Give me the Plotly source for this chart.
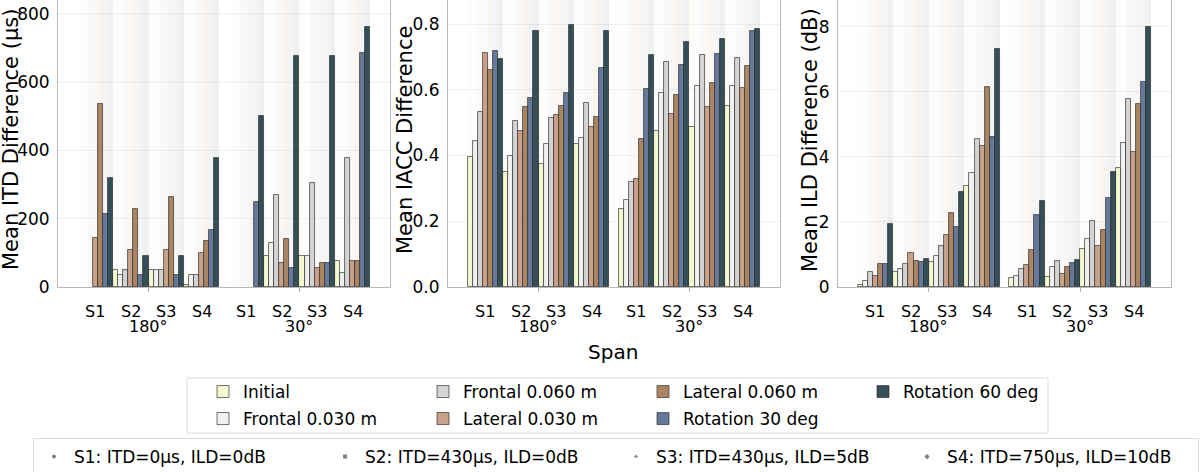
import plotly.graph_objects as go

# ---------------- data ----------------
sides = ["180°", "30°"]
scenarios = ["S1", "S2", "S3", "S4"]
conditions = ["Initial", "Frontal 0.030 m", "Frontal 0.060 m", "Lateral 0.030 m",
              "Lateral 0.060 m", "Rotation 30 deg", "Rotation 60 deg"]
scenario_labels = ["S1: ITD=0μs, ILD=0dB", "S2: ITD=430μs, ILD=0dB",
                   "S3: ITD=430μs, ILD=5dB", "S4: ITD=750μs, ILD=10dB"]

# each list: 180° S1..S4, then 30° S1..S4
itd_initial     = [0, 49, 49, 5, 0, 91, 91, 77]
itd_frontal_030 = [0, 34, 49, 34, 0, 128, 91, 41]
itd_frontal_060 = [0, 49, 49, 34, 0, 271, 306, 378]
itd_lateral_030 = [143, 107, 107, 99, 0, 69, 56, 77]
itd_lateral_060 = [535, 228, 263, 134, 0, 142, 69, 77]
itd_rotation_30 = [213, 34, 34, 168, 250, 55, 69, 686]
itd_rotation_60 = [320, 91, 91, 378, 500, 678, 678, 763]

iacc_initial     = [0.395, 0.349, 0.374, 0.434, 0.238, 0.475, 0.487, 0.552]
iacc_frontal_030 = [0.445, 0.399, 0.434, 0.452, 0.265, 0.589, 0.612, 0.610]
iacc_frontal_060 = [0.531, 0.506, 0.513, 0.560, 0.320, 0.683, 0.706, 0.696]
iacc_lateral_030 = [0.712, 0.474, 0.523, 0.488, 0.328, 0.525, 0.547, 0.606]
iacc_lateral_060 = [0.661, 0.548, 0.550, 0.517, 0.451, 0.584, 0.620, 0.672]
iacc_rotation_30 = [0.717, 0.575, 0.589, 0.666, 0.602, 0.674, 0.710, 0.779]
iacc_rotation_60 = [0.694, 0.780, 0.796, 0.780, 0.706, 0.746, 0.754, 0.784]

ild_initial     = [0.05, 0.47, 0.78, 3.12, 0.29, 0.30, 1.17, 3.67]
ild_frontal_030 = [0.20, 0.54, 0.94, 3.52, 0.35, 0.61, 1.49, 4.43]
ild_frontal_060 = [0.46, 0.71, 1.26, 4.56, 0.56, 0.79, 2.03, 5.77]
ild_lateral_030 = [0.35, 1.05, 1.59, 4.35, 0.69, 0.41, 1.26, 4.16]
ild_lateral_060 = [0.72, 0.80, 2.29, 6.16, 1.14, 0.61, 1.74, 5.62]
ild_rotation_30 = [0.72, 0.78, 1.84, 4.63, 2.20, 0.73, 2.74, 6.32]
ild_rotation_60 = [1.93, 0.86, 2.92, 7.32, 2.65, 0.83, 3.54, 8.01]

itd_series = [itd_initial, itd_frontal_030, itd_frontal_060, itd_lateral_030,
              itd_lateral_060, itd_rotation_30, itd_rotation_60]
iacc_series = [iacc_initial, iacc_frontal_030, iacc_frontal_060, iacc_lateral_030,
               iacc_lateral_060, iacc_rotation_30, iacc_rotation_60]
ild_series = [ild_initial, ild_frontal_030, ild_frontal_060, ild_lateral_030,
              ild_lateral_060, ild_rotation_30, ild_rotation_60]

y_titles = ["Mean ITD Difference (μs)", "Mean IACC Difference", "Mean ILD Difference (dB)"]
y_ticks = [[0, 200, 400, 600, 800], [0.0, 0.2, 0.4, 0.6, 0.8], [0, 2, 4, 6, 8]]
y_tickfmt = ["d", ".1f", "d"]
y_max = [841, 0.873, 8.83]

# ---------------- style ----------------
colors = ["#f6f9d0", "#f1f1ef", "#d4d4d4", "#c9a18b", "#ab8561", "#67799a", "#344f57"]
legend_row = ["legend", "legend3", "legend", "legend3", "legend", "legend3", "legend"]
marker_symbols = ["circle", "square", "triangle-up", "diamond"]
FONT = "DejaVu Sans"
W, H = 1200, 472
ML, MR, MT, MB = 30, 3, 0, 185
PW = W - ML - MR
PH = H - MT - MB
panel_px = [(58, 390), (448, 780), (838, 1171)]
domains = [[(a - ML) / PW, (b - ML) / PW] for a, b in panel_px]


def px_x(v):
    return (v - ML) / PW


def px_y(v):
    return (PH - (v - MT)) / PH


n_cond = len(conditions)
total_w = 0.94
bw = total_w / (len(scenarios) * n_cond)
gw = bw * n_cond


def bar_x(k):
    return [s + (j - (len(scenarios) - 1) / 2) * gw + (k - (n_cond - 1) / 2) * bw
            for s in range(len(sides)) for j in range(len(scenarios))]


def group_centers():
    return [s + (j - (len(scenarios) - 1) / 2) * gw
            for s in range(len(sides)) for j in range(len(scenarios))]


fig = go.Figure()
all_series = [itd_series, iacc_series, ild_series]
annotations = []
for p, series in enumerate(all_series):
    xa = "x" if p == 0 else f"x{p + 1}"
    ya = "y" if p == 0 else f"y{p + 1}"
    # faint background stripes behind each bar slot
    for k in range(n_cond):
        fig.add_trace(go.Bar(
            x=bar_x(k), y=[y_max[p]] * len(bar_x(k)), width=bw,
            marker=dict(color=colors[k], line=dict(width=0)),
            opacity=0.08 if k >= 3 else 0.12, showlegend=False, hoverinfo="skip",
            xaxis=xa, yaxis=ya))
    for k in range(n_cond):
        vals = [v if v != 0 else None for v in series[k]]  # zero-height bars draw nothing
        fig.add_trace(go.Bar(
            x=bar_x(k), y=vals, width=bw, name=conditions[k],
            marker=dict(color=colors[k], line=dict(color="rgba(45,45,45,0.75)", width=0.9)),
            showlegend=(p == 0), legendrank=k, legend=legend_row[k],
            xaxis=xa, yaxis=ya))
    # scenario labels and side labels
    for c, cx in enumerate(group_centers()):
        annotations.append(dict(x=cx, xref=xa, y=0, yref="paper", yanchor="middle",
                                yshift=-24, text=scenarios[c % len(scenarios)],
                                showarrow=False, font=dict(family=FONT, size=16, color="black")))
    for s, name in enumerate(sides):
        annotations.append(dict(x=s, xref=xa, y=0, yref="paper", yanchor="middle",
                                yshift=-39, text=name, showarrow=False,
                                font=dict(family=FONT, size=16, color="black")))
    # y-axis title
    tx = [11, 405, 810][p]
    annotations.append(dict(x=px_x(tx), xref="paper", y=px_y(140), yref="paper",
                            xanchor="center", yanchor="middle", textangle=-90,
                            text=y_titles[p], showarrow=False,
                            font=dict(family=FONT, size=21, color="black")))

annotations.append(dict(x=px_x(613), xref="paper", y=px_y(352), yref="paper",
                        yanchor="middle", text="Span", showarrow=False,
                        font=dict(family=FONT, size=20, color="black")))

for i, lab in enumerate(scenario_labels):
    fig.add_trace(go.Scatter(
        x=[None], y=[None], mode="markers", name=lab, legend="legend2",
        marker=dict(symbol=marker_symbols[i], size=4, color="#7f7f7f"),
        xaxis="x", yaxis="y"))

shapes = [dict(type="rect", xref="paper", yref="paper",
               x0=px_x(187), x1=px_x(1048), y0=px_y(433), y1=px_y(378),
               line=dict(color="#dcdcdc", width=1), fillcolor="white", layer="below")]

legend_common = dict(orientation="h", xanchor="left", yanchor="middle",
                     entrywidth=175, bgcolor="rgba(0,0,0,0)", borderwidth=0,
                     font=dict(family=FONT, size=17), traceorder="normal")
layout = dict(
    width=W, height=H,
    margin=dict(l=ML, r=MR, t=MT, b=MB, autoexpand=False),
    paper_bgcolor="white", plot_bgcolor="white",
    barmode="overlay", bargap=0,
    font=dict(family=FONT, size=17, color="black"),
    annotations=annotations, shapes=shapes,
    legend=dict(x=px_x(203), y=px_y(392), **legend_common),
    legend3=dict(x=px_x(203), y=px_y(419), **legend_common),
    legend2=dict(orientation="h", x=px_x(33), xanchor="left",
                 y=px_y(438), yanchor="top",
                 entrywidth=246,
                 bgcolor="white", bordercolor="#d9d9d9", borderwidth=1,
                 font=dict(family=FONT, size=17)),
)
for p in range(3):
    xk = "xaxis" if p == 0 else f"xaxis{p + 1}"
    yk = "yaxis" if p == 0 else f"yaxis{p + 1}"
    ya = "x" if p == 0 else f"x{p + 1}"
    layout[xk] = dict(domain=domains[p], range=[-0.6, 1.6], anchor="y" if p == 0 else f"y{p + 1}",
                      tickvals=list(range(len(sides))), ticktext=["", ""],
                      ticks="outside", ticklen=4, tickcolor="#b0b0b0",
                      showgrid=False, zeroline=False, showline=True, linecolor="#b8b8b8",
                      linewidth=1, mirror=True, fixedrange=True)
    layout[yk] = dict(domain=[0, 1], range=[0, y_max[p]], anchor=ya,
                      tickvals=y_ticks[p], tickformat=y_tickfmt[p],
                      ticks="", ticklabelstandoff=4,
                      tickfont=dict(family=FONT, size=17, color="black"),
                      showgrid=True, gridcolor="#efefef", gridwidth=1,
                      zeroline=False, showline=True, linecolor="#b8b8b8",
                      linewidth=1, mirror=True, automargin=False)
fig.update_layout(**layout)
fig.write_html("out.html")
